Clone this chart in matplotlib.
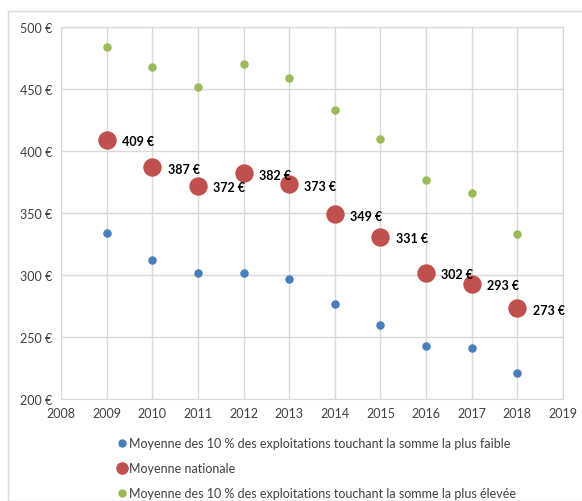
import matplotlib.pyplot as plt
from matplotlib.patches import Rectangle
from matplotlib.lines import Line2D

plt.rcParams['font.family'] = ['Lato', 'DejaVu Sans']

years = [2009, 2010, 2011, 2012, 2013, 2014, 2015, 2016, 2017, 2018]
low10 = [334, 312, 302, 302, 297, 277, 260, 243, 241, 221]
national = [409, 387, 372, 382, 373, 349, 331, 302, 293, 273]
high10 = [484, 468, 452, 470, 459, 433, 410, 377, 366, 333]

labels = ["Moyenne des 10 % des exploitations touchant la somme la plus faible",
          "Moyenne nationale",
          "Moyenne des 10 % des exploitations touchant la somme la plus élevée"]
c_blue = "#4a7ebb"
c_red = "#c0504d"
c_green = "#9bbb59"
grid_c = "#d9d9d9"

fig = plt.figure(figsize=(5.82, 5.02), dpi=100)
fig.patches.append(Rectangle((8 / 582, 0), 1, 1 - 12 / 502, transform=fig.transFigure,
                             fill=False, edgecolor=grid_c, linewidth=1))
ax = fig.add_axes([61 / 582, 1 - 400 / 502, (563 - 61) / 582, (400 - 28) / 502])

ax.scatter(years, low10, s=26, color=c_blue, zorder=3)
ax.scatter(years, national, s=150, color=c_red, zorder=3)
ax.scatter(years, high10, s=26, color=c_green, zorder=3)

for x, y in zip(years, national):
    ax.annotate(f"{y} €", (x, y), xytext=(11, -1), textcoords="offset points",
                ha="left", va="center", fontsize=9, fontweight="bold", color="black")

ax.set_xlim(2008, 2019)
ax.set_ylim(200, 500)
ax.set_xticks(range(2008, 2020))
ax.set_yticks(range(200, 501, 50))
ax.set_yticklabels([f"{v} €" for v in range(200, 501, 50)])
ax.grid(True, color=grid_c, linewidth=1)
ax.set_axisbelow(True)
ax.tick_params(length=0, labelsize=9, colors="#404040", pad=6)
for s in ax.spines.values():
    s.set_color(grid_c)

handles = [Line2D([], [], marker="o", linestyle="", color=c_blue, markersize=5),
           Line2D([], [], marker="o", linestyle="", color=c_red, markersize=8),
           Line2D([], [], marker="o", linestyle="", color=c_green, markersize=5)]
fig.legend(handles, labels, loc="upper left", bbox_to_anchor=(108 / 582, 1 - 432 / 502),
           frameon=False, fontsize=9, handletextpad=0.0, handlelength=1.2,
           labelspacing=1.05, borderpad=0, labelcolor="#404040")

fig.savefig("out.png", dpi=100)
